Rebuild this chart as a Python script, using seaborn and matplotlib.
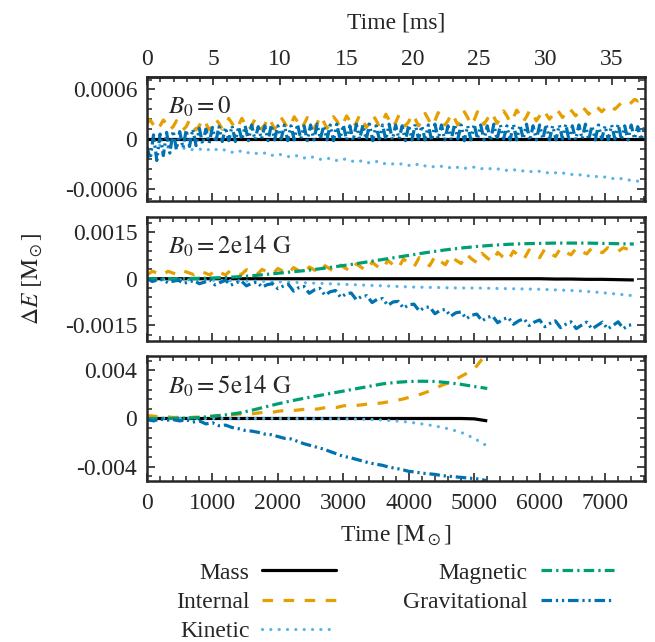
import numpy as np
import matplotlib
matplotlib.use("Agg")
import matplotlib.pyplot as plt
from matplotlib.lines import Line2D
from matplotlib.ticker import MultipleLocator, FixedLocator, FixedFormatter
import seaborn as sns

# conversion: 1 Msun (geometric time) in ms
MS_PER_M = 4.925e-3

# ---- B0 = 0 panel (energies in 1e-4 Msun) ----
t_b0 = np.arange(0, 7601, 50)
internal_b0 = [
    1.9, 2.3, 1.7, 1.1, 1.6, 2.3, 1.8, 1.1, 1.5, 2.2, 1.9, 1.1, 1.5, 2.3, 1.8, 1.1, 1.6, 2.4, 1.9, 1.1,
    1.6, 2.4, 1.9, 1.2, 1.6, 2.5, 1.9, 1.2, 1.7, 2.5, 1.8, 1.1, 1.6, 2.4, 2.0, 1.2, 1.7, 2.6, 2.0, 1.2,
    1.8, 2.6, 2.0, 1.3, 1.8, 2.7, 2.1, 1.3, 1.8, 2.6, 2.1, 1.3, 1.9, 2.8, 2.1, 1.3, 1.8, 2.7, 2.2, 1.4,
    1.9, 2.8, 2.2, 1.4, 2.0, 2.9, 2.2, 1.4, 1.9, 2.9, 2.3, 1.5, 2.0, 3.0, 2.3, 1.5, 2.0, 2.9, 2.4, 1.6,
    2.1, 3.0, 2.4, 1.6, 2.1, 3.1, 2.4, 1.6, 2.2, 3.2, 2.5, 1.7, 2.2, 3.1, 2.5, 1.7, 2.3, 3.3, 2.6, 1.7,
    2.3, 3.3, 2.6, 1.8, 2.4, 3.2, 2.7, 1.9, 2.5, 3.4, 2.8, 2.0, 2.6, 3.5, 2.9, 2.1, 2.7, 3.5, 3.0, 2.2,
    2.8, 3.5, 3.0, 2.4, 2.9, 3.6, 3.2, 2.6, 3.1, 3.7, 3.3, 2.8, 3.3, 3.9, 3.5, 3.0, 3.5, 4.0, 3.7, 3.3,
    3.7, 4.1, 3.9, 3.6, 4.0, 4.4, 4.2, 4.1, 4.4, 4.8, 4.6, 4.7, 5.0,
]
grav_b0 = [
    -1.0, -2.4, 0.5, -2.6, 0.6, -2.0, 0.8, -1.7, 1.0, -1.3, 0.9, -1.1, 1.1, -0.9, 1.2, -0.8, 1.3, -0.6, 1.2, -0.5,
    1.4, -0.4, 1.5, -0.3, 1.4, -0.2, 1.6, -0.3, 1.5, -0.1, 1.6, -0.2, 1.7, -0.1, 1.5, 0.0, 1.6, -0.2, 1.7, -0.1,
    1.6, 0.0, 1.7, -0.2, 1.6, -0.1, 1.8, 0.0, 1.6, -0.2, 1.7, -0.1, 1.8, 0.0, 1.6, -0.1, 1.7, -0.2, 1.8, 0.0,
    1.7, -0.1, 1.6, -0.2, 1.8, 0.0, 1.7, -0.1, 1.8, -0.2, 1.6, 0.0, 1.7, -0.1, 1.8, -0.1, 1.7, 0.0, 1.6, -0.2,
    1.7, -0.1, 1.8, 0.0, 1.6, -0.1, 1.7, -0.2, 1.8, 0.0, 1.7, -0.1, 1.6, -0.1, 1.8, 0.0, 1.7, -0.2, 1.6, -0.1,
    1.8, 0.0, 1.7, -0.1, 1.6, -0.2, 1.8, -0.1, 1.7, 0.0, 1.6, -0.1, 1.8, -0.1, 1.7, 0.0, 1.8, -0.2, 1.6, -0.1,
    1.7, 0.0, 1.8, -0.1, 1.6, -0.1, 1.7, 0.0, 1.8, -0.2, 1.6, -0.1, 1.7, 0.0, 1.8, -0.1, 1.6, -0.1, 1.7, 0.0,
    1.6, -0.1, 1.7, 0.0, 1.8, -0.1, 1.6, -0.1, 1.7, 0.0, 1.5, -0.1, 1.4,
]
t_b0_smooth = np.arange(0, 7601, 100)
kinetic_b0 = [
    0.5, -0.3, -0.8, -1.0, -0.9, -1.2, -1.1, -1.3, -1.2, -1.4,
    -1.1, -1.4, -1.3, -1.6, -1.4, -1.7, -1.6, -1.8, -1.7, -2.0,
    -1.8, -2.0, -2.2, -2.0, -2.3, -2.1, -2.4, -2.5, -2.3, -2.6,
    -2.4, -2.6, -2.8, -2.6, -2.9, -2.7, -3.0, -2.9, -3.1, -3.0,
    -3.2, -3.0, -3.3, -3.2, -3.4, -3.3, -3.5, -3.3, -3.6, -3.5,
    -3.4, -3.6, -3.5, -3.7, -3.6, -3.8, -3.7, -3.9, -3.8, -4.0,
    -3.9, -4.1, -4.0, -4.2, -4.1, -4.3, -4.3, -4.5, -4.4, -4.6,
    -4.6, -4.8, -4.7, -4.9, -5.0, -5.1, -5.4,
]
mass_b0 = [0.0] * len(t_b0_smooth)

# ---- B0 = 2e14 G panel (energies in 1e-4 Msun) ----
t_b2 = np.arange(0, 7441, 80)
internal_b2 = [
    1.2, 2.4, 1.8, 1.2, 2.4, 1.8, 1.3, 2.5, 1.9, 1.3, 2.5, 1.9, 1.2, 2.8, 2.0, 1.2, 2.8, 2.0,
    1.3, 2.9, 2.1, 1.4, 3.0, 2.2, 1.5, 3.3, 2.4, 1.6, 3.6, 2.6, 1.8, 3.8, 2.8, 2.0, 4.2, 3.1,
    2.2, 4.4, 3.3, 2.4, 4.8, 3.6, 2.7, 5.3, 4.0, 3.1, 5.9, 4.5, 3.4, 6.4, 4.9, 3.8, 6.8, 5.3,
    4.2, 7.2, 5.7, 4.5, 7.5, 6.0, 4.9, 7.9, 6.4, 5.2, 8.2, 6.7, 5.5, 8.5, 7.0, 5.9, 8.9, 7.4,
    6.3, 9.3, 7.8, 6.8, 9.6, 8.2, 7.2, 9.8, 8.5, 7.7, 9.9, 8.8, 8.0, 10.0, 9.0, 8.4, 10.0, 9.2,
    8.8, 10.0, 9.4, 9.0,
]
grav_b2 = [
    0.1, -0.9, -0.4, -0.3, -1.3, -0.8, -0.5, -1.5, -1.0, -0.6, -1.6, -1.1, -0.4, -2.0, -1.2,
    -0.5, -2.1, -1.3, -0.7, -2.3, -1.5, -1.1, -2.7, -1.9, -1.6, -3.2, -2.4, -1.8, -4.0, -2.9,
    -2.5, -4.7, -3.6, -3.1, -5.3, -4.2, -3.8, -6.0, -4.9, -4.6, -6.8, -5.7, -5.5, -7.7, -6.6,
    -6.4, -8.6, -7.5, -7.3, -9.5, -8.4, -8.2, -10.4, -9.3, -9.1, -11.3, -10.2, -9.9, -12.1, -11.0,
    -10.7, -12.9, -11.8, -11.4, -13.6, -12.5, -12.0, -14.2, -13.1, -12.5, -14.7, -13.6,
    -12.9, -15.1, -14.0, -13.3, -15.5, -14.4, -13.6, -15.8, -14.7, -13.9, -16.1, -15.0,
    -14.0, -16.2, -15.1, -14.0, -16.2, -15.1, -13.9, -16.1, -15.0, -14.8,
]
t_b2_smooth = np.arange(0, 7441, 240)
kinetic_b2 = [
    0.0, -0.2, -0.3, -0.4, -0.5, -0.6, -0.7, -0.8, -0.9, -1.1, -1.3, -1.5, -1.7, -1.9, -2.1, -2.3,
    -2.5, -2.7, -2.8, -2.9, -3.0, -3.0, -3.1, -3.2, -3.3, -3.4, -3.6, -3.8, -4.1, -4.5, -5.0, -5.5,
]
magnetic_b2 = [
    0.0, 0.0, 0.0, 0.1, 0.2, 0.4, 0.7, 1.1, 1.6, 2.1, 2.6, 3.2, 3.9, 4.6, 5.4, 6.2,
    7.0, 7.8, 8.6, 9.3, 9.9, 10.4, 10.8, 11.1, 11.3, 11.4, 11.5, 11.5, 11.5, 11.4, 11.3, 11.2,
]
mass_b2 = [
    0.0, 0.0, 0.0, 0.0, 0.0, 0.0, 0.0, 0.0, 0.0, 0.0, 0.0, 0.0, 0.0, 0.0, 0.0, 0.0,
    0.0, 0.0, 0.0, 0.0, 0.0, 0.0, 0.0, 0.0, 0.0, 0.0, -0.1, -0.1, -0.2, -0.2, -0.3, -0.4,
]

# ---- B0 = 5e14 G panel (energies in 1e-3 Msun) ----
t_b5 = np.arange(0, 5201, 100)
internal_b5 = [
    0.25, 0.2, 0.12, 0.15, 0.08, 0.1, 0.05, 0.1, 0.12, 0.15,
    0.2, 0.25, 0.22, 0.3, 0.36, 0.4, 0.38, 0.46, 0.52, 0.5,
    0.6, 0.66, 0.64, 0.7, 0.76, 0.8, 0.78, 0.88, 0.94, 0.92,
    1.05, 1.1, 1.08, 1.15, 1.22, 1.24, 1.3, 1.4, 1.5, 1.6,
    1.75, 1.88, 2.05, 2.25, 2.5, 2.75, 2.95, 3.2, 3.5, 3.8,
    4.1, 4.8, 5.5,
]
grav_b5 = [
    -0.1, -0.2, -0.05, -0.15, -0.1, -0.2, -0.1, -0.3, -0.2, -0.45,
    -0.35, -0.6, -0.55, -0.75, -0.85, -1.0, -1.05, -1.15, -1.3, -1.35,
    -1.5, -1.65, -1.7, -1.9, -2.1, -2.25, -2.4, -2.55, -2.75, -2.95,
    -3.15, -3.25, -3.4, -3.55, -3.7, -3.8, -3.9, -4.05, -4.15, -4.25,
    -4.4, -4.45, -4.55, -4.6, -4.65, -4.75, -4.8, -4.85, -4.9, -4.95,
    -5.0, -5.05, -5.2,
]
t_b5_smooth = np.arange(0, 5201, 200)
magnetic_b5 = [
    0.0, 0.0, 0.01, 0.03, 0.08, 0.18, 0.3, 0.45, 0.68, 0.95, 1.22, 1.46, 1.68, 1.88,
    2.08, 2.28, 2.48, 2.68, 2.88, 3.0, 3.08, 3.1, 3.08, 2.98, 2.84, 2.66, 2.5,
]
kinetic_b5 = [
    0.0, 0.02, 0.0, 0.02, 0.0, 0.01, 0.0, 0.01, 0.0, 0.0, 0.0, -0.01, -0.01, -0.02,
    -0.02, -0.03, -0.05, -0.08, -0.13, -0.2, -0.3, -0.45, -0.62, -0.85, -1.15, -1.65, -2.3,
]
mass_b5 = [
    0.0, 0.0, 0.0, 0.0, 0.0, 0.0, 0.0, 0.0, 0.0, 0.0, 0.0, 0.0, 0.0, 0.0,
    0.0, 0.0, 0.0, 0.0, 0.0, 0.0, 0.0, 0.0, 0.0, 0.0, 0.0, -0.03, -0.2,
]

ms_ticks = [0, 5, 10, 15, 20, 25, 30, 35]
labels = ["Mass", "Internal", "Kinetic", "Magnetic", "Gravitational"]
STYLES = {
    "Mass": dict(color="black", ls="-", cap="butt"),
    "Internal": dict(color="#E69F00", ls=(0, (3.3, 3.3)), cap="butt"),
    "Kinetic": dict(color="#56B4E9", ls=(0, (0.01, 2.6)), cap="round"),
    "Magnetic": dict(color="#009E73", ls=(0, (3.3, 1.3, 0.7, 1.3)), cap="butt"),
    "Gravitational": dict(color="#0072B2", ls=(0, (3.3, 1.2, 0.7, 1.2, 0.7, 1.2)), cap="butt"),
}
LW = 2.3

sns.set_theme(style="ticks")
plt.rcParams["font.family"] = ["Liberation Serif", "DejaVu Serif"]
plt.rcParams["mathtext.fontset"] = "stix"
plt.rcParams["axes.linewidth"] = 1.8
FS = 17


def draw(ax, t, vals, scale, key):
    st = STYLES[key]
    sns.lineplot(x=np.asarray(t, dtype=float), y=np.asarray(vals) * scale, ax=ax,
                 color=st["color"], linestyle=st["ls"], lw=LW, dash_capstyle=st["cap"],
                 solid_capstyle="butt", estimator=None, sort=False, legend=False)


def style_axis(ax, ylim, yticks, ytick_labels, yminor, top_ticks=True):
    ax.set_xlim(0, 7610)
    ax.set_ylim(-ylim, ylim)
    ax.xaxis.set_major_locator(MultipleLocator(1000))
    ax.xaxis.set_minor_locator(MultipleLocator(200))
    ax.yaxis.set_major_locator(FixedLocator(yticks))
    ax.yaxis.set_major_formatter(FixedFormatter(ytick_labels))
    ax.yaxis.set_minor_locator(MultipleLocator(yminor))
    ax.tick_params(which="both", direction="in", top=top_ticks, right=True, labelsize=FS)
    ax.tick_params(which="major", length=6, width=1.2)
    ax.tick_params(which="minor", length=3.5, width=1.1)
    ax.tick_params(axis="y", pad=7)
    ax.tick_params(axis="x", pad=9)
    ax.set_xlabel("")
    ax.set_ylabel("")
    for sp in ax.spines.values():
        sp.set_linewidth(1.8)


fig = plt.figure(figsize=(6.55, 6.42), dpi=100)
ax1 = fig.add_axes([0.2244, 0.6869, 0.7603, 0.1931])
ax2 = fig.add_axes([0.2244, 0.4693, 0.7603, 0.1931])
ax3 = fig.add_axes([0.2244, 0.2508, 0.7603, 0.1947])

# panel 1
draw(ax1, t_b0_smooth, mass_b0, 1e-4, "Mass")
draw(ax1, t_b0, internal_b0, 1e-4, "Internal")
draw(ax1, t_b0_smooth, kinetic_b0, 1e-4, "Kinetic")
draw(ax1, t_b0, grav_b0, 1e-4, "Gravitational")
style_axis(ax1, 0.00075, [-0.0006, 0, 0.0006], ["-0.0006", "0", "0.0006"], 0.00012, top_ticks=False)
ax1.tick_params(axis="x", labelbottom=False)

top = ax1.secondary_xaxis("top", functions=(lambda m: m * MS_PER_M, lambda ms: ms / MS_PER_M))
top.xaxis.set_major_locator(FixedLocator(ms_ticks))
top.xaxis.set_major_formatter(FixedFormatter([str(v) for v in ms_ticks]))
top.xaxis.set_minor_locator(FixedLocator(list(range(0, 38))))
top.tick_params(which="both", direction="in", labelsize=FS, pad=5)
top.tick_params(which="major", length=6, width=1.2)
top.tick_params(which="minor", length=3.5, width=1.1)
top.set_xlabel("Time [ms]", fontsize=FS, labelpad=15)

# panel 2
draw(ax2, t_b2_smooth, mass_b2, 1e-4, "Mass")
draw(ax2, t_b2, internal_b2, 1e-4, "Internal")
draw(ax2, t_b2_smooth, kinetic_b2, 1e-4, "Kinetic")
draw(ax2, t_b2_smooth, magnetic_b2, 1e-4, "Magnetic")
draw(ax2, t_b2, grav_b2, 1e-4, "Gravitational")
style_axis(ax2, 0.002, [-0.0015, 0, 0.0015], ["-0.0015", "0", "0.0015"], 0.0003)
ax2.tick_params(axis="x", labelbottom=False)
ax2.set_ylabel(r"$\Delta E\ [\mathrm{M}_\odot]$", fontsize=FS)
ax2.yaxis.set_label_coords(-0.205, 0.5)

# panel 3
draw(ax3, t_b5_smooth, mass_b5, 1e-3, "Mass")
draw(ax3, t_b5, internal_b5, 1e-3, "Internal")
draw(ax3, t_b5_smooth, kinetic_b5, 1e-3, "Kinetic")
draw(ax3, t_b5_smooth, magnetic_b5, 1e-3, "Magnetic")
draw(ax3, t_b5, grav_b5, 1e-3, "Gravitational")
style_axis(ax3, 0.0052, [-0.004, 0, 0.004], ["-0.004", "0", "0.004"], 0.0008)
ax3.set_xlabel(r"Time [$\mathrm{M}_\odot$]", fontsize=FS, labelpad=7)

for ax, txt in zip([ax1, ax2, ax3],
                   [r"$B_0 = 0$", r"$B_0 = \mathrm{2e14\ G}$", r"$B_0 = \mathrm{5e14\ G}$"]):
    ax.text(0.042, 0.76, txt, transform=ax.transAxes, fontsize=FS + 1, ha="left", va="center")

handles = [Line2D([], [], color=STYLES[k]["color"], linestyle=STYLES[k]["ls"], lw=LW,
                  dash_capstyle=STYLES[k]["cap"]) for k in labels]
fig.legend(handles, labels, loc="upper left", bbox_to_anchor=(176 / 655, 1 - 562 / 642),
           ncol=2, frameon=False, markerfirst=False, handlelength=3.1, handletextpad=0.55,
           columnspacing=2.85, labelspacing=0.33, fontsize=FS, borderpad=0, borderaxespad=0)

fig.savefig("out.png", dpi=100)
